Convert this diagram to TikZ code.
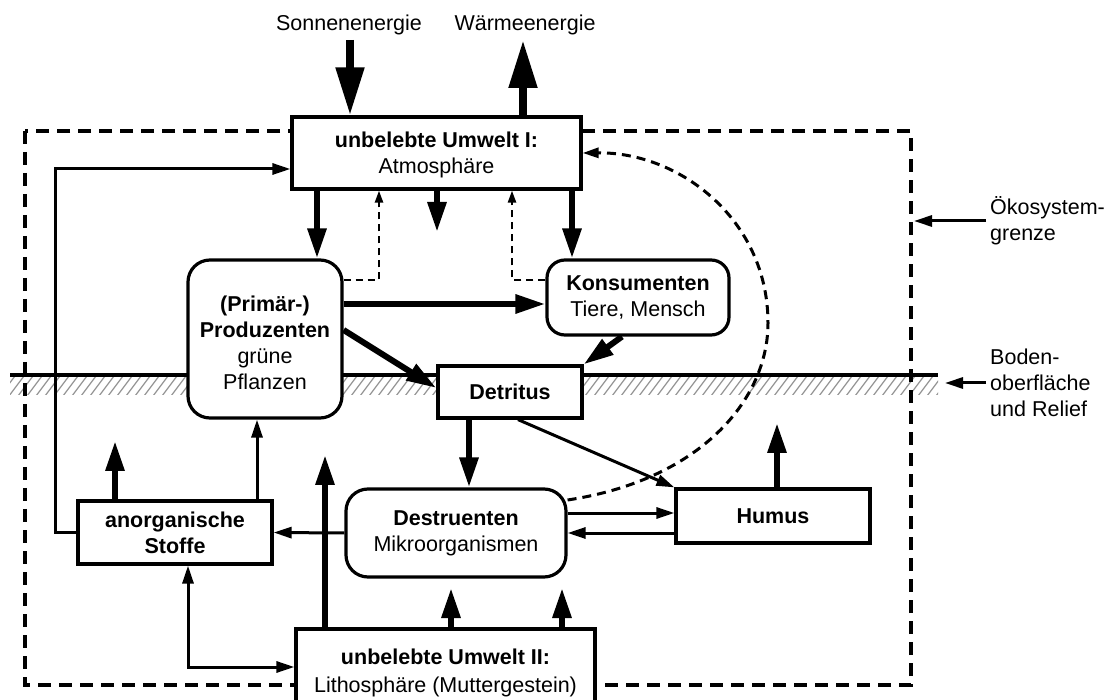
\documentclass[tikz,border=0pt]{standalone}
\usepackage{fontspec}
\setmainfont{Liberation Sans}
\usetikzlibrary{arrows.meta}
\newcommand{\labfont}{\fontsize{21.5}{26}\selectfont}
\begin{document}
\begin{tikzpicture}[x=1pt,y=-1pt,
  box/.style={draw, line width=3.2pt, fill=white, inner sep=0pt, align=center, font=\labfont},
  rbox/.style={box, rounded corners=22pt},
  plain/.style={inner sep=0pt, align=left, font=\labfont},
  bigarr/.style={line width=8pt, -{Triangle[length=48pt,width=27pt]}},
  medarr/.style={line width=6pt, -{Triangle[length=30pt,width=18pt]}},
  thinarr/.style={line width=3pt, -{Triangle[length=18pt,width=11pt]}},
  thinline/.style={line width=3pt},
  dasharr/.style={line width=2.4pt, dash pattern=on 7pt off 5pt, -{Triangle[length=12pt,width=8pt]}},
  curvearr/.style={line width=3pt, dash pattern=on 9pt off 6pt, -{Triangle[length=16pt,width=10pt]}},
  boundary/.style={line width=3.2pt, dash pattern=on 13pt off 8pt}
]
\useasboundingbox (0,0) rectangle (1109,700);
\fill[white] (0,0) rectangle (1109,700);

% hatching below the ground surface
\begin{scope}
  \clip (10,377) rectangle (938,395);
  \foreach \x in {0,9,...,960} \draw[gray!85, line width=1.2pt] (\x,396) -- (\x+15,376);
\end{scope}
\draw[line width=3.2pt] (10,375) -- (938,375);

% ecosystem boundary
\draw[boundary] (25,131) rectangle (911,685);

% nodes
\node[box, minimum width=289, minimum height=72] (atm) at (436.5,153)
  {\rule{0pt}{19pt}\textbf{unbelebte Umwelt I:}\\Atmosphäre};
\node[rbox, minimum width=154, minimum height=158] (prod) at (265,339)
  {\rule{0pt}{23.5pt}\textbf{(Primär-)}\\\textbf{Produzenten}\\grüne\\Pflanzen};
\node[box, rounded corners=18pt, minimum width=182, minimum height=75] (kons) at (638,297.5)
  {\textbf{Konsumenten}\\Tiere, Mensch};
\node[box, minimum width=144, minimum height=52] (det) at (510,392) {\textbf{Detritus}};
\node[box, rounded corners=22pt, minimum width=220, minimum height=88] (destr) at (456,533)
  {\textbf{Destruenten}\\Mikroorganismen};
\node[box, minimum width=194, minimum height=54] (humus) at (773,516) {\textbf{Humus}};
\node[box, minimum width=194, minimum height=63] (anorg) at (175,532.5)
  {\textbf{anorganische}\\\textbf{Stoffe}};
\node[box, minimum width=299, minimum height=87] (litho) at (445.5,672.5)
  {\textbf{unbelebte Umwelt II:}\\[2pt]Lithosphäre (Muttergestein)};

% outside labels
\node[plain, align=center] (sonne) at (349,25) {Sonnenenergie};
\node[plain, align=center] (waerme) at (525,25) {Wärmeenergie};
\node[plain, anchor=west] (oeko) at (990,221) {Ökosystem-\\grenze};
\node[plain, anchor=west] (boden) at (990,383) {Boden-\\oberfläche\\und Relief};

% free ends
\coordinate (sun) at (350,40);
\coordinate (heat) at (523,40);
\coordinate (atmdown) at (437,232);
\coordinate (anup) at (115,441);
\coordinate (lithoA) at (325,455);
\coordinate (lithoB) at (451,588);
\coordinate (lithoC) at (562,588);
\coordinate (humup) at (777,423);
\coordinate (bnd) at (914,221);
\coordinate (hatchend) at (945,383);

% energy arrows
\draw[bigarr] (sun) -- (sun |- atm.north);
\draw[bigarr] (heat |- atm.north) -- (heat);

% thick flows
\draw[medarr] (317,0 |- atm.south) -- (317,0 |- prod.north);
\draw[medarr] (atmdown |- atm.south) -- (atmdown);
\draw[medarr] (572,0 |- atm.south) -- (572,0 |- kons.north);
\draw[medarr] (prod.east |- 0,304) -- (kons.west |- 0,304);
\draw[medarr] (prod.east |- 0,330) -- (det.west |- 0,388);
\draw[medarr] (622,0 |- kons.south) -- (det.north east);
\draw[medarr] (469,0 |- det.south) -- (469,0 |- destr.north);
\draw[medarr] (anup |- anorg.north) -- (anup);
\draw[medarr] (lithoA |- litho.north) -- (lithoA);
\draw[medarr] (lithoB |- litho.north) -- (lithoB);
\draw[medarr] (lithoC |- litho.north) -- (lithoC);
\draw[medarr] (humup |- humus.north) -- (humup);

% thin flows
\draw[thinarr] (257,0 |- anorg.north) -- (257,0 |- prod.south);
\draw[thinarr] (destr.west) -- (anorg.east);
\draw[thinarr] (destr.east |- 0,513) -- (humus.west |- 0,513);
\draw[thinarr] (humus.west |- 0,533) -- (destr.east |- 0,533);
\draw[thinarr] (518,0 |- det.south) -- (humus.north west);
\draw[thinline, {Triangle[length=18pt,width=11pt]}-{Triangle[length=18pt,width=11pt]}]
  (litho.west |- 0,667) -| (188,0 |- anorg.south);
\draw[thinarr] (anorg.west) -- ++(-21,0) |- (atm.west |- 0,169);

% dashed flows
\draw[dasharr] (prod.east |- 0,280) -- (379,280) -- (379,0 |- atm.south);
\draw[dasharr] (kons.west |- 0,280) -- (512,280) -- (512,0 |- atm.south);
\draw[curvearr] (destr.east |- 0,500) .. controls (700,480) and (768,400) .. (768,323)
  .. controls (768,220) and (680,152) .. (atm.east);

% label arrows
\draw[thinarr] (oeko.west) ++(-4,0) -- (bnd);
\draw[thinarr] (boden.west) ++(-4,0) -- (hatchend);
\end{tikzpicture}
\end{document}
